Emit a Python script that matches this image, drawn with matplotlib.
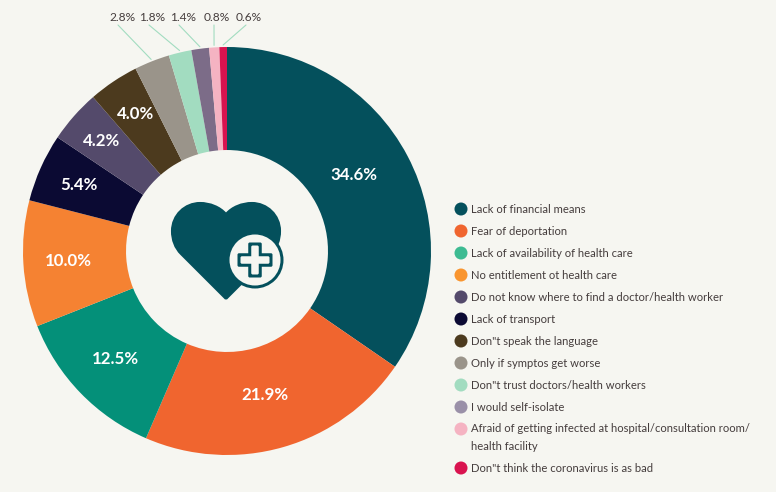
import matplotlib
matplotlib.use("Agg")
import matplotlib.pyplot as plt
from matplotlib.patches import Circle, FancyBboxPatch, PathPatch
from matplotlib.path import Path
import numpy as np

plt.rcParams["font.family"] = ["Lato", "DejaVu Sans"]

categories = ["Lack of financial means", "Fear of deportation", "Lack of availability of health care",
              "No entitlement ot health care", "Do not know where to find a doctor/health worker",
              "Lack of transport", 'Don"t speak the language', "Only if symptos get worse",
              'Don"t trust doctors/health workers', "I would self-isolate",
              "Afraid of getting infected at hospital/consultation room/\nhealth facility",
              'Don"t think the coronavirus is as bad']
values = [34.6, 21.9, 12.5, 10.0, 5.4, 4.2, 4.0, 2.8, 1.8, 1.4, 0.8, 0.6]
colors = ["#04505c", "#f0652f", "#049079", "#f58232", "#0b0a33", "#544a6b",
          "#4c3a1e", "#9a948a", "#a2dcc0", "#7c6c88", "#f5b3c2", "#d9134f"]
legend_colors = ["#04505c", "#f0652f", "#3dbb92", "#f9952f", "#544a6b", "#0b0a33",
                 "#4c3a1e", "#9a948a", "#a2dcc0", "#9a90a8", "#f5b3c2", "#d9134f"]
legend_y = [209, 231, 253, 275, 297, 319, 341, 363, 385, 407, 429, 468]
label_r = [148, 149, 155, 159, 162, 167, 165]
label_shift = [3.2, -1.2, 0, 0, 0, 0, 0]  # labels are not quite mid-slice in the original
small_label_x = [122, 152, 183, 217, 249]
line_start_x = [118, 149, 179, 214, 246]

bg = "#f6f6f1"
dark = "#04505c"
text_col = "#453d3d"
W, H = 776, 492
cx, cy, R = 227, 251, 204

fig = plt.figure(figsize=(W / 100, H / 100), dpi=100, facecolor=bg)

# pie axes sits exactly over the ring
ax = fig.add_axes([(cx - R) / W, 1 - (cy + R) / H, 2 * R / W, 2 * R / H])
ax.pie(values, colors=colors, startangle=90, counterclock=False, radius=1,
       wedgeprops=dict(width=0.505, linewidth=0))
ax.set_xlim(-1, 1)
ax.set_ylim(-1, 1)
ax.axis("off")

# overlay in pixel coordinates
ov = fig.add_axes([0, 0, 1, 1])
ov.set_xlim(0, W)
ov.set_ylim(H, 0)
ov.axis("off")
ov.patch.set_alpha(0)

mids = 90 - (np.cumsum(values) - np.array(values) / 2) * 3.6
for i, r in enumerate(label_r):
    a = np.deg2rad(mids[i] + label_shift[i])
    ov.text(cx + r * np.cos(a), cy - r * np.sin(a), f"{values[i]:.1f}%", color="white",
            fontsize=12.2, fontweight="bold", ha="center", va="center")

# small slices get leader lines
for i, lx, sx in zip(range(7, 12), small_label_x, line_start_x):
    a = np.deg2rad(mids[i])
    tx, ty = cx + 1.01 * R * np.cos(a), cy - 1.01 * R * np.sin(a)
    ov.plot([sx, tx], [25, ty], color="#a2dcc0", lw=0.8, solid_capstyle="round")
    ov.text(lx, 17.5, f"{values[i]:.1f}%", color=text_col, fontsize=8.6, ha="center", va="center")

# heart icon
heart = Path([(226, 299), (181, 254),
              (175, 248), (172, 240), (172, 231),
              (172, 215), (185, 203), (200, 203),
              (210, 203), (220, 207), (226, 214),
              (232, 207), (242, 203), (252, 203),
              (267, 203), (280, 215), (280, 231),
              (280, 240), (277, 248), (271, 254),
              (226, 299)],
             [Path.MOVETO, Path.LINETO] + [Path.CURVE4] * 18 + [Path.LINETO])
ov.add_patch(PathPatch(heart, fc=dark, ec=dark, lw=1.5, joinstyle="round"))
ov.add_patch(Circle((255, 260), 28.5, fc=dark, ec="none"))
ov.add_patch(Circle((255, 260), 25.5, fc=bg, ec="none"))
for w, h, c in [(35, 13.5, dark), (13.5, 35, dark), (29, 7.5, bg), (7.5, 29, bg)]:
    ov.add_patch(FancyBboxPatch((255 - w / 2 + 1, 260 - h / 2 + 1), w - 2, h - 2,
                                boxstyle="round,pad=1,rounding_size=1.5", fc=c, ec="none"))

# legend
for name, c, y in zip(categories, legend_colors, legend_y):
    ov.add_patch(Circle((461, y), 6.5, fc=c, ec="none"))
    if "\n" in name:
        ov.text(471, y - 5.5, name, color=text_col, fontsize=8.1, ha="left", va="top", linespacing=1.75)
    else:
        ov.text(471, y + 0.5, name, color=text_col, fontsize=8.1, ha="left", va="center")

fig.savefig("out.png", dpi=100, facecolor=bg)
